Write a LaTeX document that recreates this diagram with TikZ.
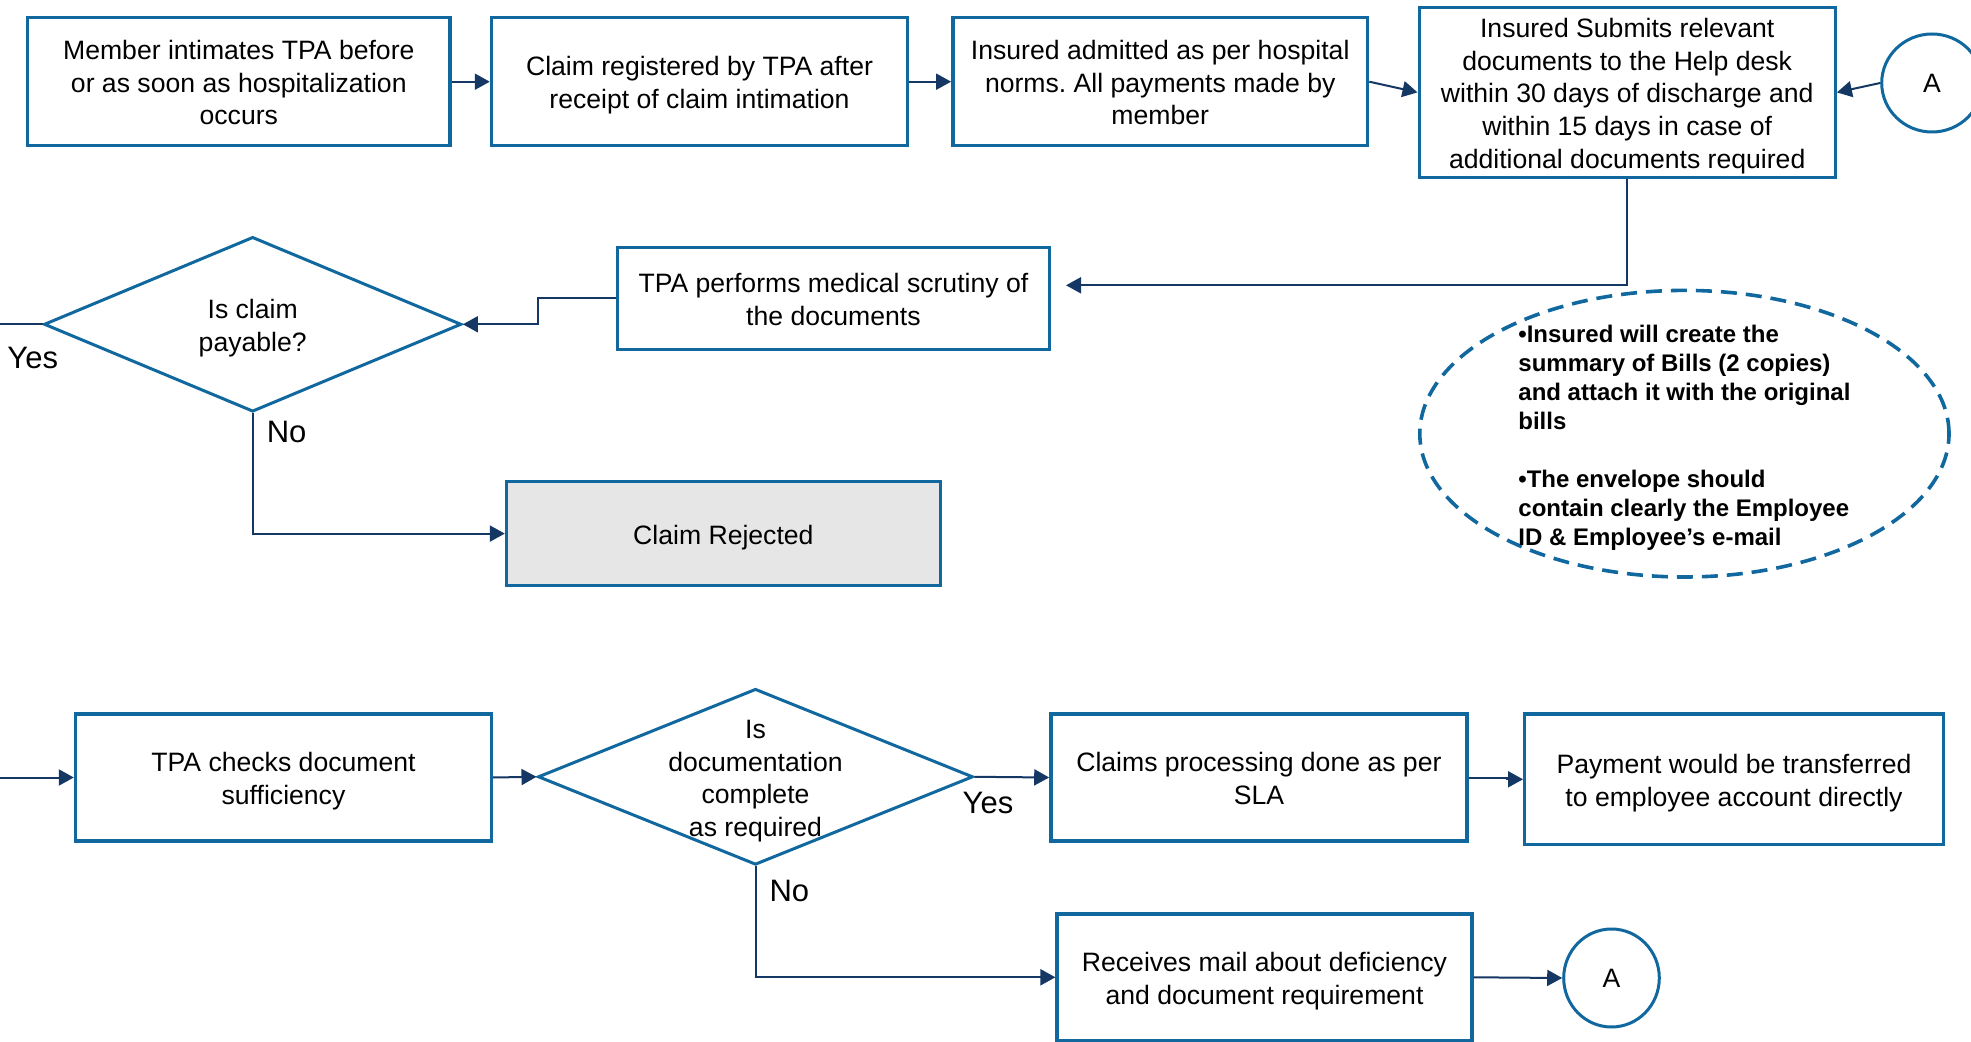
\documentclass[tikz,border=0pt]{standalone}
\usepackage{fontspec}
\setmainfont{Liberation Sans}
\usetikzlibrary{shapes.geometric,arrows.meta}
\definecolor{boxblue}{RGB}{16,104,158}
\definecolor{arrnavy}{RGB}{20,55,100}
\definecolor{rejgray}{RGB}{230,230,230}
\newcommand{\mysmashtext}[3][5.6pt]{\smash{\raisebox{-#1}{\begin{tabular}{@{}#2@{}}#3\end{tabular}}}}
\frenchspacing
\begin{document}
\begin{tikzpicture}[x=0.5pt,y=-0.5pt,
 proc/.style={draw=boxblue, line width=1.7pt, inner sep=0pt, font=\fontsize{13.3}{16.3}\selectfont},
 dec/.style={diamond, draw=boxblue, line width=1.5pt, inner sep=0pt, font=\fontsize{13.3}{16.3}\selectfont},
 conn/.style={ellipse, draw=boxblue, line width=1.5pt, inner sep=0pt, font=\fontsize{13.3}{16.3}\selectfont},
 arr/.style={draw=arrnavy, line width=1pt, -{Triangle[length=7.5pt,width=8pt]}},
 plainline/.style={draw=arrnavy, line width=1pt},
 lbl/.style={font=\fontsize{15.5}{18}\selectfont, inner sep=0pt},
]
\useasboundingbox (0,0) rectangle (1971,1042);

% top row
\node[proc, minimum width=211.2pt, minimum height=64.1pt] (b1) at (238.8,81.7) {\mysmashtext{c}{Member intimates TPA before\\or as soon as hospitalization\\occurs}};
\node[proc, minimum width=208pt, minimum height=64.1pt] (b2) at (699.5,81.7) {\mysmashtext{c}{Claim registered by TPA after\\receipt of claim intimation}};
\node[proc, minimum width=207.4pt, minimum height=64.1pt] (b3) at (1160.2,81.7) {\mysmashtext{c}{Insured admitted as per hospital\\norms. All payments made by\\member}};
\node[proc, minimum width=208pt, minimum height=84.9pt] (b4) at (1627.2,92.4) {\mysmashtext{c}{Insured Submits relevant\\documents to the Help desk\\within 30 days of discharge and\\within 15 days in case of\\additional documents required}};
\node[conn, minimum width=50.3pt, minimum height=49pt] (a1) at (1932,83) {A};

% middle
\node[proc, minimum width=216.2pt, minimum height=50.9pt] (b5) at (833.4,298.5) {\mysmashtext{c}{TPA performs medical scrutiny of\\the documents}};
\node[dec, minimum width=208.7pt, minimum height=87.4pt] (d1) at (252.7,324.3) {\mysmashtext{c}{Is claim\\payable?}};
\node[proc, fill=rejgray, minimum width=216.9pt, minimum height=52.2pt] (rej) at (723.4,533.6) {\mysmashtext{c}{Claim Rejected}};
\node[ellipse, draw=boxblue, dash pattern=on 8pt off 4.5pt, line width=1.8pt, minimum width=264.6pt, minimum height=143.3pt, inner sep=0pt, font=\bfseries\fontsize{12}{14.45}\selectfont] (note) at (1684.4,433.7)
 {\mysmashtext[5.2pt]{l}{•Insured will create the\\summary of Bills (2 copies)\\and attach it with the original\\bills\\ \\•The envelope should\\contain clearly the Employee\\ID \& Employee’s e-mail}};

% bottom rows
\node[proc, minimum width=208pt, minimum height=63.5pt] (b6) at (283.5,777.5) {\mysmashtext{c}{TPA checks document\\sufficiency}};
\node[dec, minimum width=217.5pt, minimum height=88pt] (d2) at (755.5,776.8) {\mysmashtext{c}{Is\\documentation\\complete\\as required}};
\node[proc, minimum width=208pt, minimum height=63.5pt] (b7) at (1258.9,777.5) {\mysmashtext{c}{Claims processing done as per\\SLA}};
\node[proc, minimum width=209.3pt, minimum height=65.4pt] (b8) at (1734,779.3) {\mysmashtext{c}{Payment would be transferred\\to employee account directly}};
\node[proc, minimum width=207.4pt, minimum height=63.5pt] (b9) at (1264.5,977.3) {\mysmashtext{c}{Receives mail about deficiency\\and document requirement}};
\node[conn, minimum width=47.8pt, minimum height=49pt] (a2) at (1611.5,978) {A};

% labels
\node[lbl] (yes1) at (32.7,358.2) {Yes};
\node[lbl] (no1) at (286.6,432.4) {No};
\node[lbl] (yes2) at (988,803.2) {Yes};
\node[lbl] (no2) at (789.4,891.2) {No};

% connectors
\coordinate (c5) at (1066,285.3);
\coordinate (yesL) at (0,324.3);
\coordinate (inL) at (0,777.5);
\draw[arr] (b1.east) -- (b2.west);
\draw[arr] (b2.east) -- (b3.west);
\draw[arr] (b3.east) -- (b4.west);
\draw[arr] (a1.west) -- (b4.east);
\draw[arr] (b4.south) |- (c5);
\draw[arr] (b5.west) -- ++(-78,0) |- (d1.east);
\draw[plainline] (d1.west) -- (yesL);
\draw[arr] (d1.south) |- (rej.west);
\draw[arr] (inL) -- (b6.west);
\draw[arr] (b6.east) -- (d2.west);
\draw[arr] (d2.east) -- (b7.west);
\draw[arr] (b7.east) -- ++(38,0) |- (b8.west);
\draw[arr] (d2.south) |- (b9.west);
\draw[arr] (b9.east) -- (a2.west);
\end{tikzpicture}
\end{document}
